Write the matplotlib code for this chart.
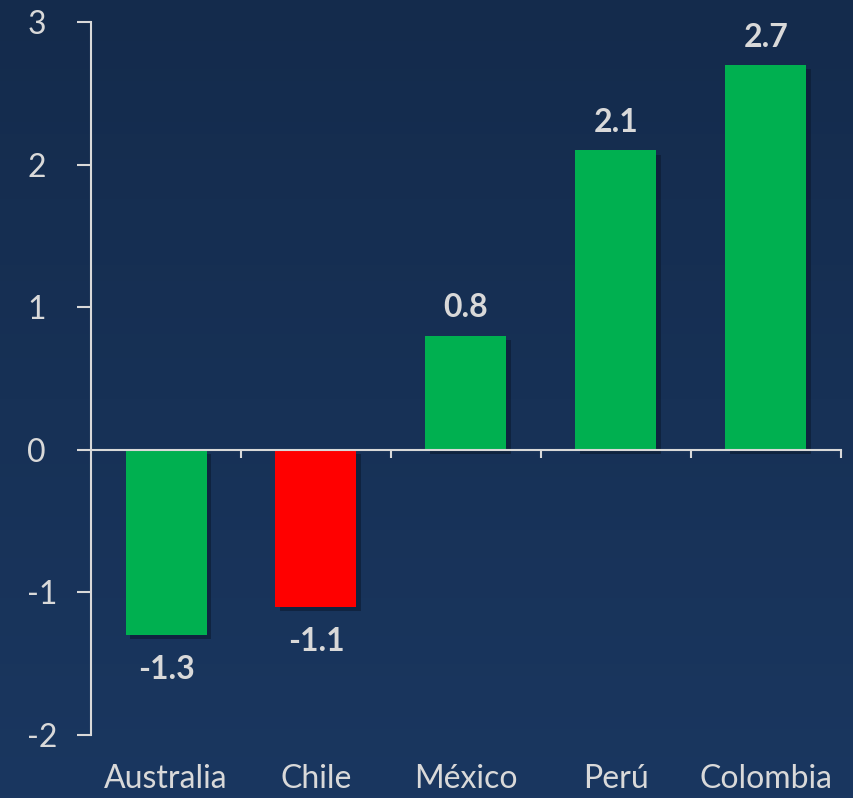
import matplotlib.pyplot as plt
import matplotlib.patheffects as pe
import numpy as np
from matplotlib.colors import LinearSegmentedColormap

plt.rcParams['font.family'] = ['Lato', 'DejaVu Sans']

# data
countries = ["Australia", "Chile", "México", "Perú", "Colombia"]
values = [-1.3, -1.1, 0.8, 2.1, 2.7]
bar_colors = ["#00B050", "#FF0000", "#00B050", "#00B050", "#00B050"]
yticks = [-2, -1, 0, 1, 2, 3]

txt = "#D9D9D9"

fig = plt.figure(figsize=(8.54, 7.98), dpi=100)

# background gradient
bg = fig.add_axes([0, 0, 1, 1], zorder=-10)
cmap = LinearSegmentedColormap.from_list("bg", ["#142B4C", "#1A3760"])
grad = np.linspace(0, 1, 256).reshape(-1, 1)
bg.imshow(grad, aspect="auto", cmap=cmap, extent=[0, 1, 1, 0])
bg.axis("off")

ax = fig.add_axes([0.1066, 0.0789, 0.878, 0.8935])
ax.patch.set_alpha(0)

x = np.arange(len(countries))
bars = ax.bar(x, values, width=0.54, color=bar_colors, zorder=3)
for b in bars:
    b.set_path_effects([pe.SimplePatchShadow(offset=(3, -3), shadow_rgbFace="#0B1A30", alpha=0.6),
                        pe.Normal()])

for xi, v in zip(x, values):
    off = 20 if v >= 0 else -25
    ax.annotate(f"{v:.1f}", (xi, v), xytext=(0, off), textcoords="offset points",
                ha="center", va="center", fontsize=23, fontweight="bold", color=txt)

ax.set_xlim(-0.5, len(countries) - 0.5)
ax.set_ylim(-2, 3)
ax.set_yticks(yticks)
ax.set_yticklabels([str(t) for t in yticks])

for s in ["top", "right"]:
    ax.spines[s].set_visible(False)
ax.spines["bottom"].set_position(("data", 0))
ax.spines["bottom"].set_color(txt)
ax.spines["bottom"].set_linewidth(1.5)
ax.spines["bottom"].set_zorder(4)
ax.spines["left"].set_color(txt)
ax.spines["left"].set_linewidth(1.5)

ax.set_xticks(np.arange(len(countries)) + 0.5)
ax.set_xticklabels([])
ax.tick_params(axis="x", direction="out", length=6, width=1.5, color=txt)
ax.tick_params(axis="y", direction="out", length=10, width=1.5, color=txt,
               labelcolor=txt, labelsize=23, pad=36)
for lab in ax.get_yticklabels():
    lab.set_horizontalalignment("left")

# category labels under the plot
for xi, name in zip(x, countries):
    ax.text(xi, -0.04, name, transform=ax.get_xaxis_transform(), ha="center", va="top",
            fontsize=23, color=txt)

fig.savefig("out.png", dpi=100)
